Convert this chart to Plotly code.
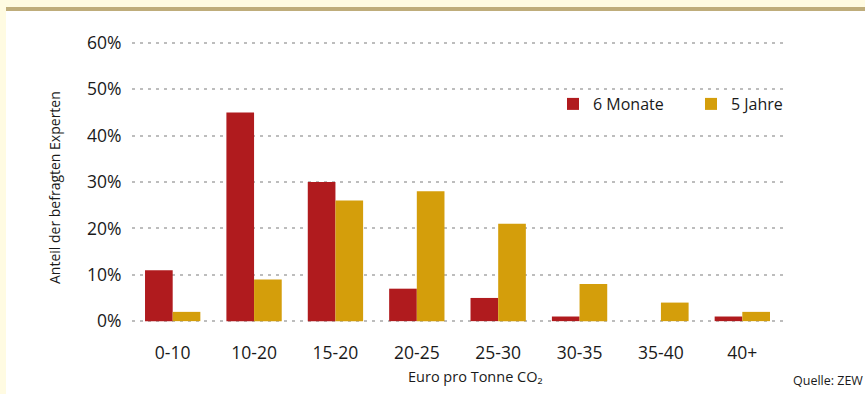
import plotly.graph_objects as go

categories = ["0-10", "10-20", "15-20", "20-25", "25-30", "30-35", "35-40", "40+"]
monate6 = [11, 45, 30, 7, 5, 1, 0, 1]
jahre5 = [2, 9, 26, 28, 21, 8, 4, 2]
yticks = [0, 10, 20, 30, 40, 50, 60]
yticklabels = [f"{v}%" for v in yticks]

RED = "#B01B1E"
GOLD = "#D49E0B"
FONT = "Open Sans"
TXT = "#1a1a1a"

W, H = 865, 394
L, R, T, B = 132, 82, 41, 71

fig = go.Figure()
fig.add_trace(go.Bar(x=categories, y=monate6, name="6 Monate", marker_color=RED,
                     marker_line_width=0))
fig.add_trace(go.Bar(x=categories, y=jahre5, name="5 Jahre", marker_color=GOLD,
                     marker_line_width=0))

def px_x(p):
    return (p - L) / (W - L - R)

def px_y(p):
    return (H - B - p) / (H - T - B)

shapes = [
    dict(type="rect", xref="paper", yref="paper", x0=px_x(6), x1=px_x(W + 5),
         y0=px_y(H + 5), y1=px_y(11), fillcolor="white", line_width=0, layer="below"),
    dict(type="rect", xref="paper", yref="paper", x0=px_x(6), x1=px_x(W + 5),
         y0=px_y(11), y1=px_y(7), fillcolor="#BFAD7B", line_width=0, layer="below"),
]

fig.update_layout(
    width=W, height=H,
    margin=dict(l=L, r=R, t=T, b=B, pad=0),
    paper_bgcolor="#FFFBE2",
    plot_bgcolor="rgba(0,0,0,0)",
    barmode="group",
    bargap=0.32,
    bargroupgap=0,
    font=dict(family=FONT, color=TXT, size=17),
    shapes=shapes,
    showlegend=True,
    legend=dict(orientation="h", x=px_x(553), y=px_y(104), xanchor="left", yanchor="middle",
                font=dict(size=16, family=FONT, color=TXT), bgcolor="rgba(0,0,0,0)",
                itemwidth=30, traceorder="normal", entrywidth=93, entrywidthmode="pixels"),
    xaxis=dict(showgrid=False, showline=False, zeroline=False, ticks="outside",
               ticklen=14, tickcolor="rgba(0,0,0,0)", tickfont=dict(size=17.5)),
    yaxis=dict(range=[-0.4, 60.4], tickvals=yticks, ticktext=yticklabels, showgrid=True,
               gridcolor="#BDBDBD", gridwidth=1.5, griddash="3px,5px", zeroline=False,
               showline=False, ticks="outside", ticklen=6, tickcolor="rgba(0,0,0,0)",
               tickfont=dict(size=17.5)),
    annotations=[
        dict(text="Anteil der befragten Experten", xref="paper", yref="paper",
             x=px_x(55), y=px_y(188), textangle=-90, showarrow=False,
             font=dict(size=14, family=FONT, color=TXT), xanchor="center", yanchor="middle"),
        dict(text="Euro pro Tonne CO₂", xref="paper", yref="paper",
             x=px_x(475), y=px_y(376), showarrow=False,
             font=dict(size=14.5, family=FONT, color=TXT), xanchor="center", yanchor="middle"),
        dict(text="Quelle: ZEW", xref="paper", yref="paper",
             x=px_x(865), y=px_y(380), showarrow=False,
             font=dict(size=12.5, family=FONT, color=TXT), xanchor="right", yanchor="middle"),
    ],
)

fig.write_html("out.html")
